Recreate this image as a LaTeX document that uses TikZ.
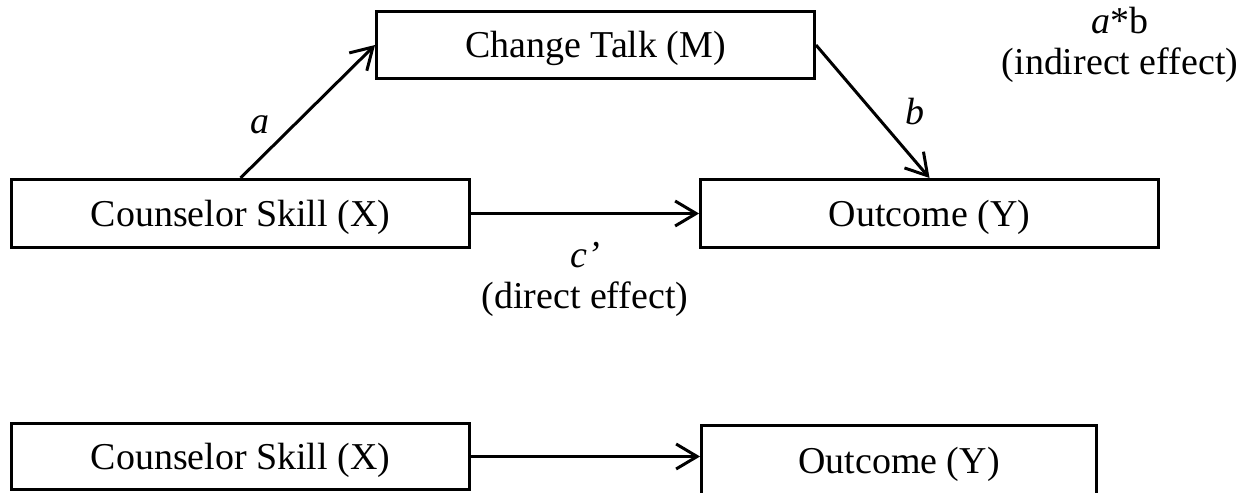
\documentclass[tikz,border=0pt]{standalone}
\usepackage{fontspec}
\setmainfont{Liberation Serif}
\usetikzlibrary{arrows.meta,
                quotes}

\begin{document}
\begin{tikzpicture}[x=0.02cm, y=-0.02cm,
every edge/.style = {draw, -{Straight Barb[length=0.42cm, width=0.5cm]}, line width=0.06cm, black},
every edge quotes/.append style = {inner sep=0pt, align=center, font=\fontsize{21.6}{23}\selectfont},
       box/.style = {draw, line width=0.06cm, minimum height=1.36cm, inner sep=0pt,
                     text height=16.8pt, text depth=2.2pt,
                     font=\fontsize{21.6}{23}\selectfont},
      note/.style = {align=center, inner sep=0pt, font=\fontsize{21.6}{23}\selectfont}
                    ]
\clip (0,0) rectangle (1257,493);

\node (m)  [box, minimum width=8.76cm] at (595.5,45)   {Change Talk (M)};
\node (x1) [box, minimum width=9.16cm] at (240.5,213.5) {Counselor Skill (X)};
\node (y1) [box, minimum width=9.16cm] at (929.5,213.5) {Outcome (Y)};
\node (x2) [box, minimum width=9.16cm, minimum height=1.32cm] at (240.5,456.5) {Counselor Skill (X)};
\node (y2) [box, minimum width=7.9cm, minimum height=1.44cm]  at (899,461)     {Outcome (Y)};
\node (ab) [note] at (1120,45) {\textit{a}*b\\(indirect effect)};

\draw   (x1.north) edge ["\textit{a}" {pos=0.4, left=0.47cm}]     (m.west)
        (m.east)   edge ["\textit{b}" {pos=0.5, right=0.62cm}]    (y1.north)
        (x1.east)  edge ["\textit{c’}\\(direct effect)" {below=0.55cm}] (y1.west)
        (x2.east)  edge                                             (x2.east -| y2.west);
\end{tikzpicture}
\end{document}
